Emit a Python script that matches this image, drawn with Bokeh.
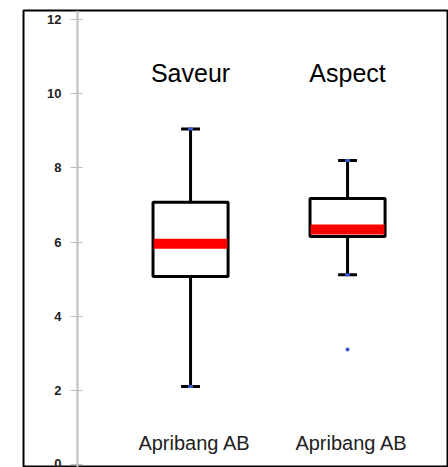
from bokeh.plotting import figure
from bokeh.models import Range1d, FixedTicker
from bokeh.embed import file_html
from bokeh.resources import INLINE
from bokeh.core.properties import value

# ---- data ----
categories = ["Saveur", "Aspect"]
product = ["Apribang AB", "Apribang AB"]
lower_whisker = [2.1, 5.12]
q1 = [5.07, 6.15]
median = [5.95, 6.34]
q3 = [7.07, 7.17]
upper_whisker = [9.05, 8.2]
outlier_cat = ["Aspect"]
outlier_val = [3.1]
y_ticks = [0, 2, 4, 6, 8, 10, 12]

xs = [i + 1 for i in range(len(categories))]
out_x = [categories.index(c) + 1 for c in outlier_cat]
mids = [(a + b) / 2 for a, b in zip(q1, q3)]
heights = [b - a for a, b in zip(q1, q3)]

p = figure(width=448, height=467, output_backend="svg", toolbar_location=None,
           x_range=Range1d(-0.064, 2.643), y_range=Range1d(-0.081, 12.243),
           min_border_left=23, min_border_top=10, min_border_right=0, min_border_bottom=0)
p.xaxis.visible = False
p.grid.visible = False
p.outline_line_color = "black"
p.outline_line_width = 2
p.background_fill_color = "white"
p.border_fill_color = "white"

ax = p.yaxis[0]
ax.fixed_location = 0.28
ax.ticker = FixedTicker(ticks=y_ticks)
ax.minor_tick_line_color = None
ax.axis_line_color = "#bdbdbd"
ax.axis_line_width = 2
ax.major_tick_line_color = "#bdbdbd"
ax.major_tick_in = 5
ax.major_tick_out = 7
ax.major_label_standoff = 9
ax.major_label_text_font = "Liberation Sans"
ax.major_label_text_font_style = "bold"
ax.major_label_text_font_size = "13px"
ax.major_label_text_color = "#222222"

# whiskers
p.segment(x0=xs, y0=q3, x1=xs, y1=upper_whisker, line_color="black", line_width=3)
p.segment(x0=xs, y0=lower_whisker, x1=xs, y1=q1, line_color="black", line_width=3)
# caps
p.rect(x=xs, y=upper_whisker, width=0.12, height=3, height_units="screen",
       fill_color="black", line_color=None)
p.rect(x=xs, y=lower_whisker, width=0.12, height=3, height_units="screen",
       fill_color="black", line_color=None)
p.rect(x=xs, y=upper_whisker, width=0.03, height=3, height_units="screen",
       fill_color="#3b5bd6", line_color=None)
p.rect(x=xs, y=lower_whisker, width=0.03, height=3, height_units="screen",
       fill_color="#3b5bd6", line_color=None)
# boxes
p.rect(x=xs, y=mids, width=0.478, height=heights, fill_color="white",
       line_color="black", line_width=3)
# medians
p.rect(x=xs, y=median, width=0.47, height=10, height_units="screen",
       fill_color="#ff0000", line_color=None)
# outliers
p.scatter(x=out_x, y=outlier_val, size=4, fill_color="#3b5bd6", line_color=None)

# labels
p.text(x=xs, y=[10.57] * len(xs), text=categories, text_align="center",
       text_baseline="middle", text_font=value("Liberation Sans"),
       text_font_size="25px", text_color="black")
p.text(x=xs, y=[0.57] * len(xs), text=product, text_align="center",
       text_baseline="middle", text_font=value("Liberation Sans"),
       text_font_size="20px", text_color="#222222", x_offset=4)

open("out.html", "w").write(file_html(p, INLINE))
